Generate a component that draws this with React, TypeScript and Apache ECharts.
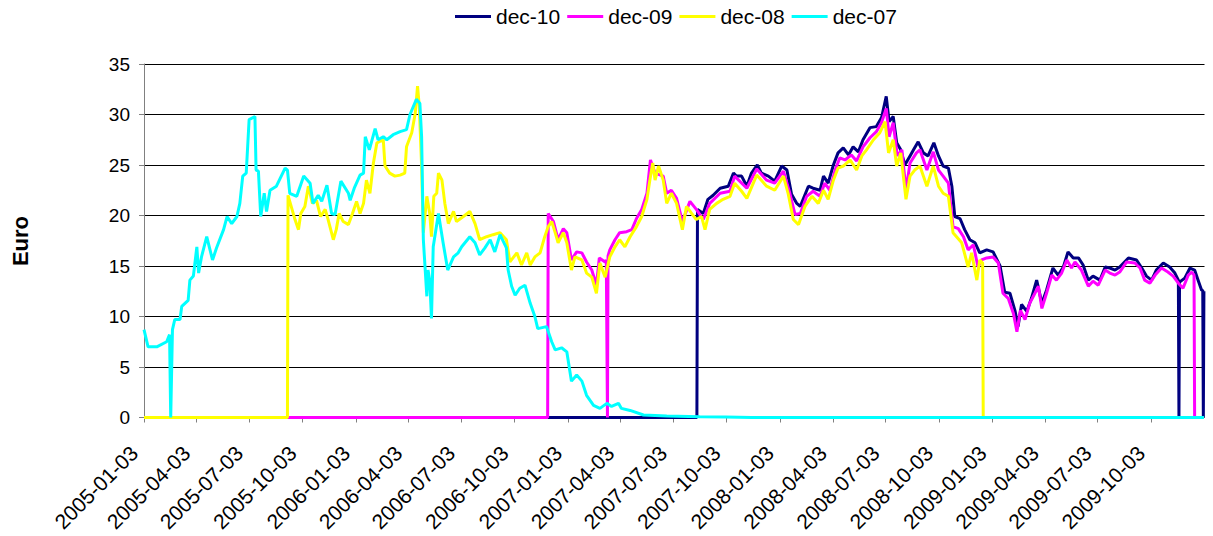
import React, { useEffect, useRef } from "react";
import * as echarts from "echarts";

const FONT = "'Liberation Sans', Arial, sans-serif";

const seriesNames = ["dec-10", "dec-09", "dec-08", "dec-07"];
const seriesColors = ["#000080", "#FF00FF", "#FFFF00", "#00FFFF"];

const tickLabels = [
  "2005-01-03", "2005-04-03", "2005-07-03", "2005-10-03",
  "2006-01-03", "2006-04-03", "2006-07-03", "2006-10-03",
  "2007-01-03", "2007-04-03", "2007-07-03", "2007-10-03",
  "2008-01-03", "2008-04-03", "2008-07-03", "2008-10-03",
  "2009-01-03", "2009-04-03", "2009-07-03", "2009-10-03",
];
const axisStart = "2005-01-03";
const axisEnd = "2010-01-03";

const dec07: [string, number][] = [
  ["2005-01-03", 8.7], ["2005-01-10", 7.0], ["2005-01-25", 7.0], ["2005-02-11", 7.5],
  ["2005-02-16", 8.2], ["2005-02-18", 0], ["2005-02-21", 8.7], ["2005-02-25", 9.7],
  ["2005-03-06", 9.7], ["2005-03-09", 11.0], ["2005-03-20", 11.6], ["2005-03-23", 13.6],
  ["2005-03-29", 14.0], ["2005-04-04", 16.9], ["2005-04-07", 14.3], ["2005-04-12", 15.9],
  ["2005-04-21", 17.9], ["2005-05-01", 15.6], ["2005-05-08", 16.8], ["2005-05-20", 18.6],
  ["2005-05-26", 19.9], ["2005-06-03", 19.2], ["2005-06-12", 19.9], ["2005-06-17", 21.2],
  ["2005-06-22", 23.9], ["2005-06-28", 24.2], ["2005-07-03", 29.5], ["2005-07-13", 29.8],
  ["2005-07-15", 24.5], ["2005-07-19", 24.4], ["2005-07-23", 19.9], ["2005-07-29", 22.2],
  ["2005-08-02", 20.4], ["2005-08-08", 22.5], ["2005-08-19", 22.9], ["2005-09-03", 24.7],
  ["2005-09-07", 24.5], ["2005-09-11", 22.2], ["2005-09-23", 21.9], ["2005-10-05", 23.9],
  ["2005-10-16", 23.2], ["2005-10-21", 21.2], ["2005-10-30", 22.0], ["2005-11-05", 21.4],
  ["2005-11-14", 23.0], ["2005-11-22", 20.2], ["2005-11-28", 20.1], ["2005-12-08", 23.4],
  ["2005-12-21", 22.2], ["2005-12-24", 21.5], ["2005-12-31", 22.7], ["2006-01-10", 24.0],
  ["2006-01-16", 24.2], ["2006-01-19", 27.8], ["2006-01-26", 26.5], ["2006-02-05", 28.6],
  ["2006-02-10", 27.5], ["2006-02-19", 27.8], ["2006-02-25", 27.5], ["2006-03-08", 28.0],
  ["2006-03-20", 28.3], ["2006-03-31", 28.5], ["2006-04-06", 30.0], ["2006-04-17", 31.5],
  ["2006-04-23", 31.1], ["2006-04-26", 27.8], ["2006-04-29", 17.6], ["2006-05-05", 12.0],
  ["2006-05-07", 14.6], ["2006-05-10", 13.6], ["2006-05-13", 9.8], ["2006-05-16", 16.9],
  ["2006-05-25", 20.2], ["2006-06-02", 17.3], ["2006-06-10", 14.6], ["2006-06-20", 15.9],
  ["2006-06-28", 16.3], ["2006-07-04", 16.9], ["2006-07-18", 17.9], ["2006-07-27", 17.3],
  ["2006-08-04", 16.1], ["2006-08-13", 16.8], ["2006-08-22", 17.6], ["2006-08-30", 16.4],
  ["2006-09-08", 18.1], ["2006-09-19", 16.8], ["2006-09-22", 14.6], ["2006-09-28", 13.0],
  ["2006-10-04", 12.1], ["2006-10-12", 12.8], ["2006-10-21", 13.1], ["2006-10-30", 11.3],
  ["2006-11-07", 10.0], ["2006-11-12", 8.8], ["2006-11-27", 9.0], ["2006-12-06", 7.5],
  ["2006-12-12", 6.7], ["2006-12-23", 6.9], ["2007-01-01", 6.5], ["2007-01-09", 3.6],
  ["2007-01-18", 4.2], ["2007-01-27", 3.6], ["2007-02-04", 2.2], ["2007-02-16", 1.2],
  ["2007-02-27", 0.9], ["2007-03-11", 1.4], ["2007-03-19", 1.1], ["2007-03-31", 1.4],
  ["2007-04-05", 0.9], ["2007-04-20", 0.7], ["2007-05-13", 0.25], ["2007-06-22", 0.15],
  ["2007-08-18", 0.08], ["2007-10-01", 0.05], ["2007-11-15", 0], ["2010-01-02", 0],
];

const dec08: [string, number][] = [
  ["2005-01-03", 0], ["2005-09-07", 0], ["2005-09-08", 22.0], ["2005-09-20", 19.6],
  ["2005-09-26", 18.6], ["2005-09-30", 20.2], ["2005-10-07", 20.9], ["2005-10-13", 22.9],
  ["2005-10-20", 21.2], ["2005-10-27", 21.5], ["2005-11-03", 19.9], ["2005-11-11", 20.6],
  ["2005-11-16", 19.6], ["2005-11-25", 17.6], ["2005-11-30", 18.6], ["2005-12-05", 20.2],
  ["2005-12-12", 19.4], ["2005-12-21", 19.1], ["2005-12-28", 20.2], ["2006-01-04", 21.4],
  ["2006-01-10", 20.2], ["2006-01-16", 21.2], ["2006-01-21", 23.5], ["2006-01-27", 22.2],
  ["2006-02-02", 25.2], ["2006-02-08", 27.2], ["2006-02-19", 27.5], ["2006-02-22", 24.9],
  ["2006-03-02", 24.2], ["2006-03-11", 23.9], ["2006-03-20", 24.0], ["2006-03-28", 24.2],
  ["2006-03-31", 26.8], ["2006-04-09", 28.2], ["2006-04-15", 30.1], ["2006-04-19", 32.8],
  ["2006-04-22", 30.8], ["2006-04-26", 24.9], ["2006-04-29", 18.3], ["2006-05-05", 21.9],
  ["2006-05-10", 20.2], ["2006-05-13", 17.9], ["2006-05-17", 21.9], ["2006-05-22", 22.2],
  ["2006-05-25", 24.2], ["2006-05-31", 23.5], ["2006-06-05", 21.2], ["2006-06-11", 19.2],
  ["2006-06-20", 20.4], ["2006-06-25", 19.4], ["2006-07-07", 19.9], ["2006-07-18", 20.4],
  ["2006-07-27", 19.2], ["2006-08-04", 17.6], ["2006-08-16", 17.9], ["2006-08-27", 18.1],
  ["2006-09-08", 18.3], ["2006-09-19", 17.6], ["2006-09-25", 15.4], ["2006-10-07", 16.3],
  ["2006-10-15", 15.1], ["2006-10-24", 16.3], ["2006-10-30", 15.1], ["2006-11-07", 15.9],
  ["2006-11-16", 16.3], ["2006-11-24", 17.9], ["2006-11-30", 18.9], ["2006-12-06", 19.4],
  ["2006-12-12", 18.3], ["2006-12-17", 17.3], ["2006-12-26", 18.3], ["2007-01-01", 17.3],
  ["2007-01-09", 14.6], ["2007-01-15", 15.9], ["2007-01-27", 15.6], ["2007-02-04", 14.3],
  ["2007-02-13", 13.9], ["2007-02-21", 12.3], ["2007-02-27", 15.3], ["2007-03-08", 13.9],
  ["2007-03-16", 15.9], ["2007-03-25", 16.9], ["2007-04-02", 17.6], ["2007-04-11", 16.9],
  ["2007-04-20", 17.9], ["2007-05-01", 18.9], ["2007-05-10", 19.9], ["2007-05-19", 21.6],
  ["2007-05-24", 23.5], ["2007-05-29", 25.2], ["2007-06-02", 23.5], ["2007-06-08", 24.9],
  ["2007-06-16", 23.5], ["2007-06-22", 21.2], ["2007-06-30", 22.2], ["2007-07-09", 21.2],
  ["2007-07-19", 18.6], ["2007-07-26", 20.9], ["2007-08-04", 20.2], ["2007-08-12", 19.6],
  ["2007-08-21", 19.9], ["2007-08-27", 18.6], ["2007-09-04", 20.6], ["2007-09-16", 21.2],
  ["2007-09-27", 21.6], ["2007-10-09", 21.9], ["2007-10-17", 23.2], ["2007-10-29", 22.4],
  ["2007-11-07", 21.7], ["2007-11-24", 24.0], ["2007-12-11", 22.9], ["2007-12-25", 22.5],
  ["2008-01-09", 23.9], ["2008-01-17", 22.2], ["2008-01-26", 19.6], ["2008-02-04", 19.1],
  ["2008-02-15", 20.9], ["2008-02-27", 21.9], ["2008-03-09", 21.2], ["2008-03-18", 22.5],
  ["2008-03-26", 21.6], ["2008-04-04", 23.5], ["2008-04-12", 24.7], ["2008-04-21", 24.9],
  ["2008-05-03", 25.5], ["2008-05-14", 24.5], ["2008-05-23", 25.9], ["2008-05-31", 26.5],
  ["2008-06-12", 27.5], ["2008-06-23", 28.2], ["2008-07-02", 29.3], ["2008-07-08", 26.2],
  ["2008-07-16", 27.5], ["2008-07-22", 24.9], ["2008-07-29", 26.2], ["2008-08-07", 21.6],
  ["2008-08-14", 23.9], ["2008-08-22", 24.5], ["2008-08-31", 24.9], ["2008-09-12", 22.9],
  ["2008-09-23", 24.9], ["2008-10-02", 22.9], ["2008-10-10", 22.2], ["2008-10-19", 21.9],
  ["2008-10-27", 18.3], ["2008-11-02", 17.9], ["2008-11-11", 17.3], ["2008-11-22", 14.9],
  ["2008-11-28", 16.3], ["2008-12-07", 13.6], ["2008-12-12", 15.6], ["2008-12-17", 15.3],
  ["2008-12-18", 0], ["2010-01-02", 0],
];

const dec09: [string, number][] = [
  ["2005-01-03", 0], ["2006-11-29", 0], ["2006-11-30", 20.2], ["2006-12-09", 19.4],
  ["2006-12-17", 17.6], ["2006-12-26", 18.7], ["2007-01-01", 18.3], ["2007-01-09", 15.6],
  ["2007-01-18", 16.4], ["2007-01-27", 16.3], ["2007-02-04", 15.4], ["2007-02-13", 14.6],
  ["2007-02-21", 13.1], ["2007-02-26", 15.8], ["2007-03-08", 15.4], ["2007-03-10", 15.6],
  ["2007-03-12", 0], ["2007-03-13", 16.0], ["2007-03-16", 16.6], ["2007-03-25", 17.6],
  ["2007-04-02", 18.3], ["2007-04-14", 18.4], ["2007-04-23", 18.6], ["2007-05-01", 19.7],
  ["2007-05-10", 20.6], ["2007-05-19", 22.2], ["2007-05-25", 25.5], ["2007-06-02", 24.2],
  ["2007-06-16", 23.9], ["2007-06-22", 22.2], ["2007-06-30", 22.5], ["2007-07-09", 21.7],
  ["2007-07-19", 19.4], ["2007-08-01", 21.4], ["2007-08-12", 20.6], ["2007-08-24", 19.6],
  ["2007-09-04", 21.2], ["2007-09-22", 22.2], ["2007-10-09", 22.4], ["2007-10-17", 23.9],
  ["2007-11-07", 22.7], ["2007-11-24", 24.6], ["2007-12-11", 23.5], ["2007-12-25", 23.2],
  ["2008-01-09", 24.4], ["2008-01-20", 22.2], ["2008-01-29", 20.1], ["2008-02-07", 20.2],
  ["2008-02-18", 21.9], ["2008-02-29", 22.4], ["2008-03-12", 21.9], ["2008-03-20", 23.2],
  ["2008-03-29", 22.5], ["2008-04-07", 24.5], ["2008-04-15", 25.7], ["2008-04-24", 25.5],
  ["2008-05-05", 26.0], ["2008-05-14", 25.4], ["2008-05-25", 26.8], ["2008-06-06", 27.7],
  ["2008-06-17", 28.3], ["2008-06-26", 29.2], ["2008-07-04", 30.6], ["2008-07-09", 27.8],
  ["2008-07-16", 29.2], ["2008-07-23", 25.9], ["2008-07-31", 26.5], ["2008-08-07", 22.5],
  ["2008-08-14", 25.2], ["2008-08-25", 26.2], ["2008-08-31", 26.5], ["2008-09-12", 24.5],
  ["2008-09-23", 26.3], ["2008-10-02", 24.5], ["2008-10-10", 23.9], ["2008-10-19", 23.2],
  ["2008-10-27", 18.9], ["2008-11-05", 18.7], ["2008-11-14", 17.9], ["2008-11-22", 16.6],
  ["2008-12-01", 17.1], ["2008-12-09", 14.9], ["2008-12-15", 15.6], ["2008-12-24", 15.8],
  ["2009-01-04", 15.9], ["2009-01-13", 15.3], ["2009-01-21", 12.3], ["2009-01-30", 11.8],
  ["2009-02-08", 10.3], ["2009-02-14", 8.5], ["2009-02-20", 10.6], ["2009-02-28", 9.7],
  ["2009-03-08", 11.3], ["2009-03-17", 12.3], ["2009-03-23", 13.0], ["2009-03-29", 10.8],
  ["2009-04-06", 12.3], ["2009-04-15", 14.1], ["2009-04-23", 13.6], ["2009-05-02", 14.3],
  ["2009-05-11", 15.6], ["2009-05-19", 14.8], ["2009-05-25", 15.4], ["2009-06-05", 14.6],
  ["2009-06-17", 13.0], ["2009-06-25", 13.5], ["2009-07-04", 13.1], ["2009-07-16", 14.6],
  ["2009-07-24", 14.3], ["2009-08-02", 14.1], ["2009-08-10", 14.4], ["2009-08-22", 15.4],
  ["2009-09-05", 15.3], ["2009-09-14", 14.8], ["2009-09-22", 13.6], ["2009-10-01", 13.3],
  ["2009-10-10", 14.1], ["2009-10-21", 14.8], ["2009-11-01", 14.4], ["2009-11-10", 14.0],
  ["2009-11-19", 13.3], ["2009-11-27", 12.8], ["2009-12-06", 14.1], ["2009-12-12", 14.4],
  ["2009-12-16", 14.1], ["2009-12-17", 0], ["2010-01-02", 0],
];

const dec10: [string, number][] = [
  ["2005-01-03", 0], ["2007-08-13", 0], ["2007-08-14", 20.6], ["2007-08-24", 20.2],
  ["2007-09-01", 21.6], ["2007-09-10", 22.0], ["2007-09-22", 22.7], ["2007-10-06", 22.9],
  ["2007-10-15", 24.2], ["2007-10-20", 23.9], ["2007-10-29", 23.9], ["2007-11-07", 22.9],
  ["2007-11-15", 24.2], ["2007-11-25", 25.0], ["2007-12-02", 24.2], ["2007-12-14", 23.9],
  ["2007-12-25", 23.4], ["2008-01-06", 24.9], ["2008-01-15", 24.5], ["2008-01-23", 22.1],
  ["2008-02-01", 21.2], ["2008-02-07", 20.9], ["2008-02-21", 22.9], ["2008-02-29", 22.7],
  ["2008-03-12", 22.5], ["2008-03-18", 23.9], ["2008-03-26", 23.2], ["2008-04-04", 25.0],
  ["2008-04-12", 26.2], ["2008-04-21", 26.7], ["2008-04-30", 26.0], ["2008-05-08", 26.8],
  ["2008-05-17", 26.3], ["2008-05-25", 27.5], ["2008-06-06", 28.7], ["2008-06-17", 28.8],
  ["2008-06-26", 29.7], ["2008-07-04", 31.8], ["2008-07-09", 29.3], ["2008-07-16", 29.8],
  ["2008-07-22", 27.2], ["2008-07-29", 26.5], ["2008-08-05", 25.0], ["2008-08-14", 25.9],
  ["2008-08-20", 26.5], ["2008-08-28", 27.3], ["2008-09-06", 26.2], ["2008-09-14", 25.9],
  ["2008-09-24", 27.2], ["2008-10-02", 25.9], ["2008-10-10", 24.9], ["2008-10-19", 24.7],
  ["2008-10-25", 22.9], ["2008-10-30", 19.9], ["2008-11-08", 19.7], ["2008-11-16", 18.6],
  ["2008-11-25", 17.6], ["2008-12-04", 17.3], ["2008-12-12", 16.3], ["2008-12-24", 16.6],
  ["2009-01-04", 16.4], ["2009-01-16", 15.0], ["2009-01-24", 12.4], ["2009-02-02", 12.3],
  ["2009-02-11", 10.5], ["2009-02-16", 9.0], ["2009-02-22", 11.2], ["2009-03-03", 10.5],
  ["2009-03-11", 11.8], ["2009-03-20", 13.6], ["2009-03-29", 11.3], ["2009-04-06", 12.6],
  ["2009-04-17", 14.8], ["2009-04-26", 14.1], ["2009-05-05", 14.9], ["2009-05-13", 16.4],
  ["2009-05-22", 15.8], ["2009-05-31", 15.8], ["2009-06-08", 15.1], ["2009-06-17", 13.6],
  ["2009-06-25", 14.0], ["2009-07-07", 13.6], ["2009-07-16", 14.9], ["2009-07-24", 14.8],
  ["2009-08-02", 14.6], ["2009-08-10", 14.9], ["2009-08-25", 15.8], ["2009-09-08", 15.6],
  ["2009-09-17", 14.8], ["2009-09-25", 14.0], ["2009-10-04", 13.6], ["2009-10-12", 14.6],
  ["2009-10-24", 15.3], ["2009-11-04", 14.9], ["2009-11-13", 14.3], ["2009-11-19", 13.6],
  ["2009-11-20", 0], ["2009-11-21", 13.4], ["2009-11-30", 13.8], ["2009-12-09", 14.8],
  ["2009-12-17", 14.6], ["2009-12-23", 13.6], ["2009-12-29", 12.6], ["2009-12-31", 12.6],
  ["2010-01-01", 0], ["2010-01-02", 12.5],
];

const seriesData = [dec10, dec09, dec08, dec07];

function toUTC(s: string): number {
  const [y, m, d] = s.split("-").map(Number);
  return Date.UTC(y, m - 1, d);
}
const ORIGIN = toUTC(axisStart);
function dayIndex(s: string): number {
  return Math.round((toUTC(s) - ORIGIN) / 86400000);
}

export default function App() {
  const ref = useRef<HTMLDivElement>(null);

  useEffect(() => {
    if (!ref.current) return;
    const chart = echarts.init(ref.current, undefined, { renderer: "svg" });
    const tickDays = tickLabels.map(dayIndex);
    const labelFor = (v: number) => {
      const i = tickDays.indexOf(Math.round(v));
      return i >= 0 ? tickLabels[i] : "";
    };

    chart.setOption({
      animation: false,
      backgroundColor: "#ffffff",
      textStyle: { fontFamily: FONT },
      legend: {
        data: seriesNames,
        top: 1,
        left: 450,
        icon: "rect",
        itemWidth: 36,
        itemHeight: 3,
        itemGap: 7,
        textStyle: { fontSize: 21, color: "#000", fontFamily: FONT },
      },
      grid: {
        left: 144,
        right: 8.5,
        top: 64,
        bottom: 118.5,
        containLabel: false,
        outerBoundsMode: "none",
      },
      xAxis: {
        type: "value",
        min: 0,
        max: dayIndex(axisEnd),
        axisLine: { show: true, onZero: false, lineStyle: { color: "#808080", width: 1 } },
        axisTick: {
          show: true,
          length: 5,
          customValues: tickDays,
          lineStyle: { color: "#808080", width: 1 },
        },
        axisLabel: {
          customValues: tickDays,
          rotate: 45,
          fontSize: 21,
          color: "#000",
          fontFamily: FONT,
          margin: 22,
          padding: [0, 14, 0, 0],
          formatter: (v: number) => labelFor(v),
        },
        splitLine: { show: false },
      },
      yAxis: {
        type: "value",
        min: 0,
        max: 35,
        interval: 5,
        axisLine: { show: true, lineStyle: { color: "#808080", width: 1 } },
        axisTick: { show: true, length: 5, lineStyle: { color: "#808080", width: 1 } },
        axisLabel: { fontSize: 19, color: "#000", fontFamily: FONT, margin: 14 },
        splitLine: { show: true, lineStyle: { color: "#000", width: 1 } },
      },
      graphic: [
        {
          type: "text",
          x: 20,
          y: 241,
          rotation: Math.PI / 2,
          style: {
            text: "Euro",
            fill: "#000",
            font: `bold 22px ${FONT}`,
            textAlign: "center",
            textVerticalAlign: "middle",
            align: "center",
            verticalAlign: "middle",
          },
        },
      ],
      series: seriesNames.map((name, i) => ({
        name,
        type: "line",
        symbol: "none",
        showSymbol: false,
        color: seriesColors[i],
        lineStyle: { color: seriesColors[i], width: 3 },
        emphasis: { disabled: true },
        data: seriesData[i].map(([d, v]) => [dayIndex(d), v]),
      })),
    });

    return () => chart.dispose();
  }, []);

  return (
    <div
      ref={ref}
      style={{ position: "absolute", left: 0, top: 0, width: 1213, height: 536 }}
    />
  );
}
